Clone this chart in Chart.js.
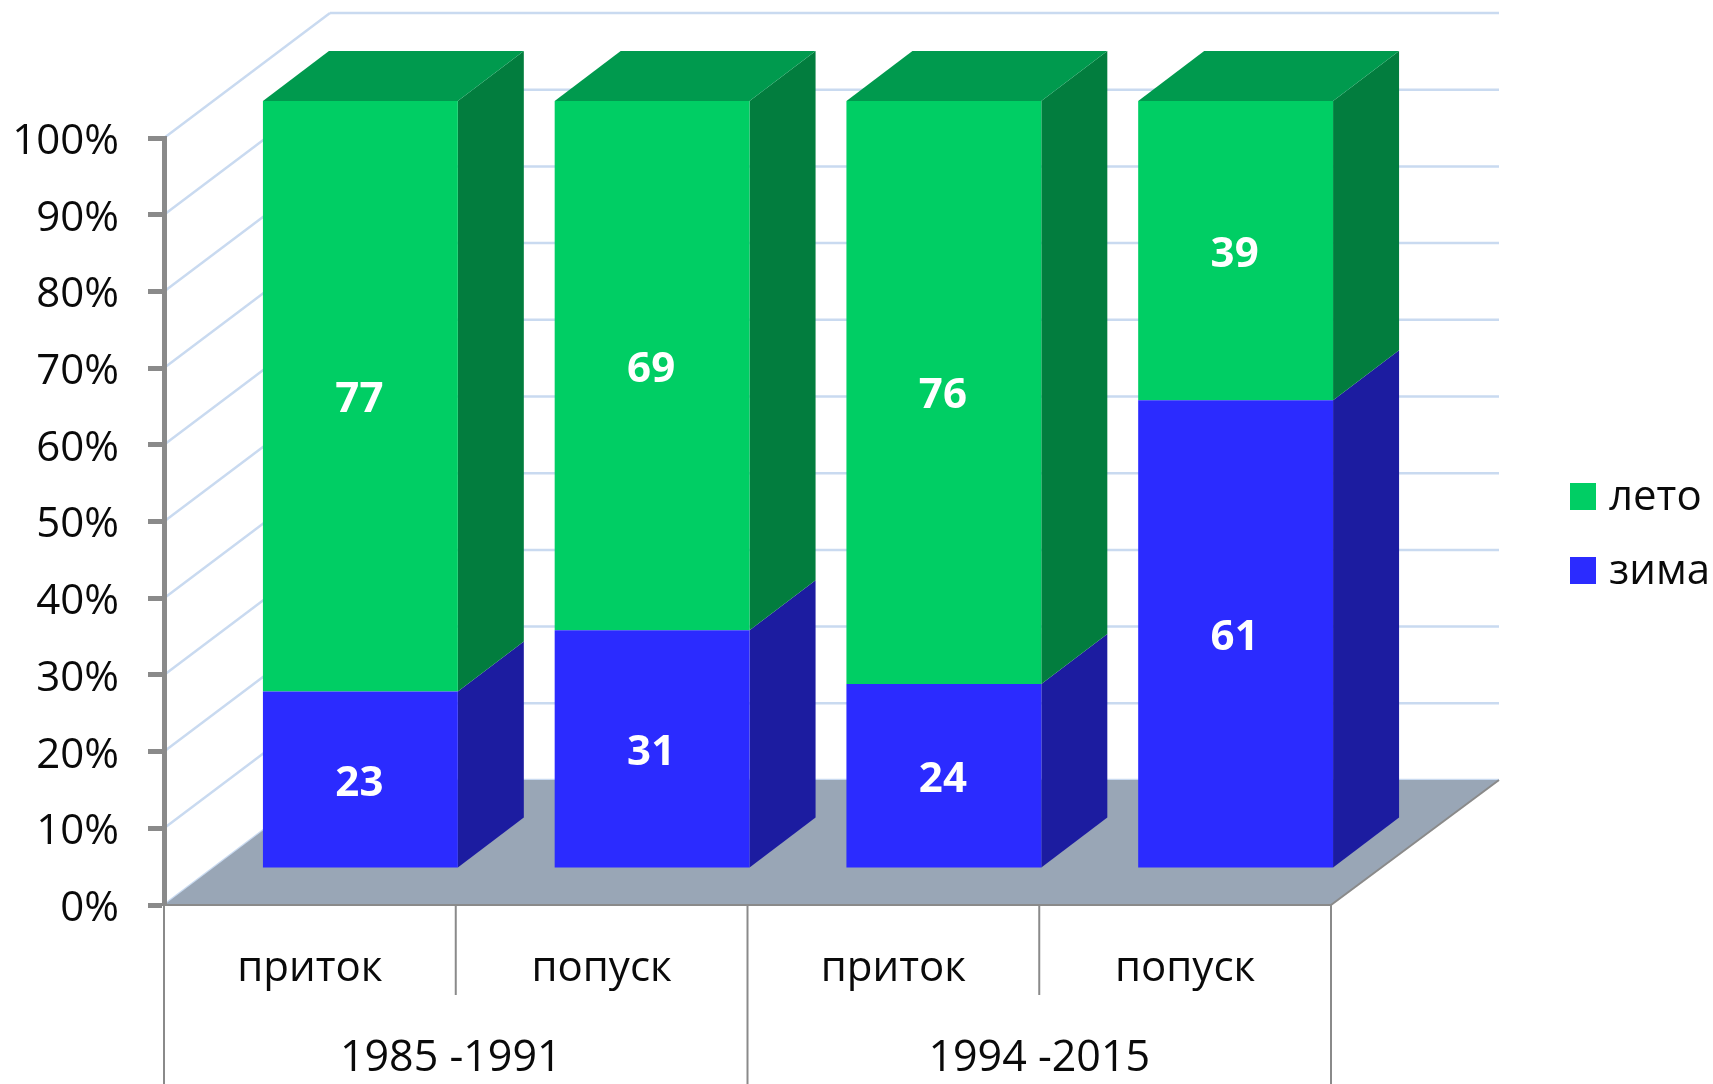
<!DOCTYPE html>
<html>
<head>
<meta charset="utf-8">
<title>приток и попуск</title>
<script src="https://cdn.jsdelivr.net/npm/chart.js@4"></script>
<style>
  html, body { margin: 0; padding: 0; background: #fff; overflow: hidden; }
  canvas { display: block; }
</style>
</head>
<body>
<canvas id="myChart" width="1713" height="1084"></canvas>
<script>
const categories = ["приток", "попуск", "приток", "попуск"];
const periods = ["1985 -1991", "1994 -2015"];
const winter = [23, 31, 24, 61];
const summer = [77, 69, 76, 39];

const FONT = '"Open Sans", sans-serif';
const INK = "#0a0a0a";
const AXIS_GREY = "#8a8a8a";
const GRID_BLUE = "#c9daf0";

// 3d look: the wall sits behind the axis plane, bars sit part way in
const WALL = { dx: 166, dxRight: 168, dy: -125 };
const BAR_SHIFT = { dx: 50.5, dy: -37 };
const BAR_DEPTH = { dx: 66, dy: -50 };

const shades = {
  "зима": { front: "#2b2bff", side: "#1c1ca0" },
  "лето": { front: "#00ce64", side: "#027d3e", top: "#009a4e" },
};

const poly = (ctx, pts, fill) => {
  ctx.beginPath();
  pts.forEach((p, i) => (i ? ctx.lineTo(p[0], p[1]) : ctx.moveTo(p[0], p[1])));
  ctx.closePath();
  ctx.fillStyle = fill;
  ctx.fill();
};

const line = (ctx, x1, y1, x2, y2, color, width) => {
  ctx.beginPath();
  ctx.moveTo(x1, y1);
  ctx.lineTo(x2, y2);
  ctx.strokeStyle = color;
  ctx.lineWidth = width;
  ctx.stroke();
};

// floor and gridlines go under everything
const wallPlugin = {
  id: "wall",
  beforeDraw(chart) {
    const { ctx, chartArea: a, scales } = chart;
    ctx.save();
    scales.y.ticks.forEach((t) => {
      const y = scales.y.getPixelForValue(t.value);
      line(ctx, a.left, y, a.left + WALL.dx, y + WALL.dy, GRID_BLUE, 2.5);
      line(ctx, a.left + WALL.dx, y + WALL.dy, a.right + WALL.dxRight, y + WALL.dy, GRID_BLUE, 2.5);
    });
    poly(ctx, [
      [a.left, a.bottom],
      [a.right, a.bottom],
      [a.right + WALL.dxRight, a.bottom + WALL.dy],
      [a.left + WALL.dx, a.bottom + WALL.dy],
    ], "#99a6b6");
    line(ctx, a.right, a.bottom, a.right + WALL.dxRight, a.bottom + WALL.dy, AXIS_GREY, 2);
    ctx.restore();
  },
};

// native bars get moved into the room, side and top faces are added from their elements
const boxPlugin = {
  id: "box",
  beforeDatasetsDraw(chart) {
    const { ctx } = chart;
    ctx.save();
    ctx.translate(BAR_SHIFT.dx, BAR_SHIFT.dy);
    chart.data.datasets.forEach((ds, d) => {
      const c = shades[ds.label];
      chart.getDatasetMeta(d).data.forEach((el) => {
        const r = el.x + el.width / 2;
        const l = el.x - el.width / 2;
        poly(ctx, [
          [r, el.y],
          [r + BAR_DEPTH.dx, el.y + BAR_DEPTH.dy],
          [r + BAR_DEPTH.dx, el.base + BAR_DEPTH.dy],
          [r, el.base],
        ], c.side);
        if (c.top) {
          poly(ctx, [
            [l, el.y],
            [l + BAR_DEPTH.dx, el.y + BAR_DEPTH.dy],
            [r + BAR_DEPTH.dx, el.y + BAR_DEPTH.dy],
            [r, el.y],
          ], c.top);
        }
      });
    });
  },
  afterDatasetsDraw(chart) {
    const { ctx } = chart;
    ctx.font = "bold 42px " + FONT;
    ctx.fillStyle = "#fff";
    ctx.textAlign = "center";
    ctx.textBaseline = "middle";
    chart.data.datasets.forEach((ds, d) => {
      chart.getDatasetMeta(d).data.forEach((el, i) => {
        ctx.fillText(ds.data[i], el.x - 1, (el.y + el.base) / 2 + 4);
      });
    });
    ctx.restore();
  },
};

// the two level axis separators, period names and the legend at the right
const extrasPlugin = {
  id: "extras",
  afterDraw(chart) {
    const { ctx, chartArea: a, scales, height } = chart;
    const step = scales.x.getPixelForValue(1) - scales.x.getPixelForValue(0);
    ctx.save();
    categories.forEach((_, i) => {
      const x = scales.x.getPixelForValue(i) - step / 2;
      line(ctx, x, a.bottom, x, i % 2 ? 995 : height, AXIS_GREY, 2);
    });
    line(ctx, a.right, a.bottom, a.right, height, AXIS_GREY, 2);

    ctx.fillStyle = INK;
    ctx.font = "43px " + FONT;
    ctx.textAlign = "center";
    ctx.textBaseline = "middle";
    ctx.fillText(periods[0], a.left + step - 5, 1059);
    ctx.fillText(periods[1], a.left + step * 3, 1059);

    ctx.font = "42px " + FONT;
    ctx.textAlign = "left";
    [...chart.data.datasets].reverse().forEach((ds, i) => {
      const y = 483 + i * 74;
      ctx.fillStyle = ds.backgroundColor;
      ctx.fillRect(1570, y, 26, 27);
      ctx.fillStyle = INK;
      ctx.fillText(ds.label, 1609, y + 15);
    });
    ctx.restore();
  },
};

const ctx = document.getElementById("myChart").getContext("2d");
const myChart = new Chart(ctx, {
  type: "bar",
  data: {
    labels: categories,
    datasets: [
      { label: "зима", data: winter, backgroundColor: shades["зима"].front },
      { label: "лето", data: summer, backgroundColor: shades["лето"].front },
    ],
  },
  options: {
    responsive: false,
    animation: false,
    clip: false,
    barPercentage: 0.668,
    categoryPercentage: 1,
    layout: { padding: { left: 0, top: 138, right: 382, bottom: 0 } },
    plugins: { legend: { display: false }, tooltip: { enabled: false } },
    scales: {
      x: {
        stacked: true,
        afterFit: (s) => { s.height = 179; },
        grid: { display: false },
        border: { color: AXIS_GREY, width: 2 },
        ticks: { color: INK, font: { family: FONT, size: 42 }, padding: 31, maxRotation: 0, autoSkip: false },
      },
      y: {
        stacked: true,
        min: 0,
        max: 100,
        afterFit: (s) => { s.width = 164; },
        grid: { drawOnChartArea: false, tickColor: AXIS_GREY, tickWidth: 5, tickLength: 16 },
        border: { color: AXIS_GREY, width: 5 },
        ticks: {
          stepSize: 10,
          color: INK,
          padding: 29,
          labelOffset: 4,
          font: { family: FONT, size: 42 },
          callback: (v) => v + "%",
        },
      },
    },
  },
  plugins: [wallPlugin, boxPlugin, extrasPlugin],
});
</script>
</body>
</html>
